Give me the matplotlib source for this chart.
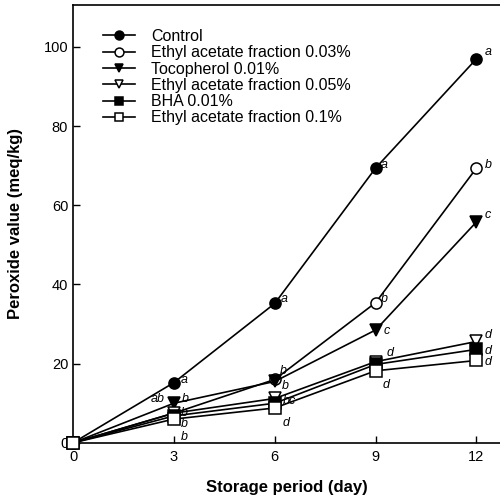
import matplotlib
matplotlib.use("Agg")
import matplotlib.pyplot as plt

plt.rcParams['font.family'] = ['Liberation Sans', 'DejaVu Sans']

days = [0, 3, 6, 9, 12]

control = [0, 15.2, 35.2, 69.4, 97.0]
ea_003 = [0, 7.5, 16.0, 35.4, 69.4]
toco_001 = [0, 10.0, 15.5, 28.5, 55.8]
ea_005 = [0, 7.5, 11.2, 20.5, 25.6]
bha_001 = [0, 6.8, 10.0, 19.8, 23.6]
ea_01 = [0, 6.0, 8.8, 18.2, 20.8]

names = ['Control', 'Ethyl acetate fraction 0.03%', 'Tocopherol 0.01%',
         'Ethyl acetate fraction 0.05%', 'BHA 0.01%', 'Ethyl acetate fraction 0.1%']
series = [control, ea_003, toco_001, ea_005, bha_001, ea_01]

# significance letters per series (day 3, 6, 9, 12)
letters = [['a', 'a', 'a', 'a'],
           ['b', 'b', 'b', 'b'],
           ['ab', 'b', 'c', 'c'],
           ['b', 'bc', 'd', 'd'],
           ['b', '', '', 'd'],
           ['b', 'd', 'd', 'd']]

markers = ['o', 'o', 'v', 'v', 's', 's']
faces = ['black', 'white', 'black', 'white', 'black', 'white']
# offsets (points) for the letters
offs = [[(5, 2), (4, 3), (4, 2), (6, 5)],
        [(6, 10), (4, 6), (4, 3), (6, 2)],
        [(-17, 3), (5, -3), (6, -1), (6, 5)],
        [(5, 0), (6, -2), (8, 6), (6, 5)],
        [(5, -6), (0, 0), (0, 0), (6, -1)],
        [(5, -13), (6, -11), (5, -10), (6, -1)]]

fig = plt.figure(figsize=(5, 4.97), dpi=100)
ax = fig.add_axes([0.146, 0.109, 0.854, 0.881])

for vals, nm, mk, fc in zip(series, names, markers, faces):
    ax.plot(days, vals, color='black', lw=1.2, marker=mk, ms=8,
            mfc=fc, mec='black', mew=1.1, label=nm, clip_on=False, zorder=3)

for vals, labs, off in zip(series, letters, offs):
    for d, v, lab, o in zip(days[1:], vals[1:], labs, off):
        if lab:
            ax.annotate(lab, (d, v), xytext=o, textcoords='offset points',
                        fontsize=9, style='italic', ha='left', va='center')

ax.set_xlim(0, 12.7)
ax.set_ylim(0, 110.6)
ax.set_xticks(days)
ax.set_yticks([0, 20, 40, 60, 80, 100])
ax.tick_params(direction='in', length=5, labelsize=10.5, width=1)
ax.tick_params(axis='x', pad=5)
ax.spines['right'].set_visible(False)
for s in ['left', 'bottom', 'top']:
    ax.spines[s].set_linewidth(1.2)

ax.set_xlabel('Storage period (day)', fontsize=12, fontweight='bold', labelpad=12)
ax.set_ylabel('Peroxide value (meq/kg)', fontsize=12, fontweight='bold', labelpad=15)

ax.legend(loc='upper left', bbox_to_anchor=(0.07, 0.945), frameon=False,
          fontsize=11.5, handlelength=2.0, labelspacing=0.08, handletextpad=1.0,
          borderaxespad=0, borderpad=0, markerscale=0.8)

fig.savefig('out.png', dpi=100)
